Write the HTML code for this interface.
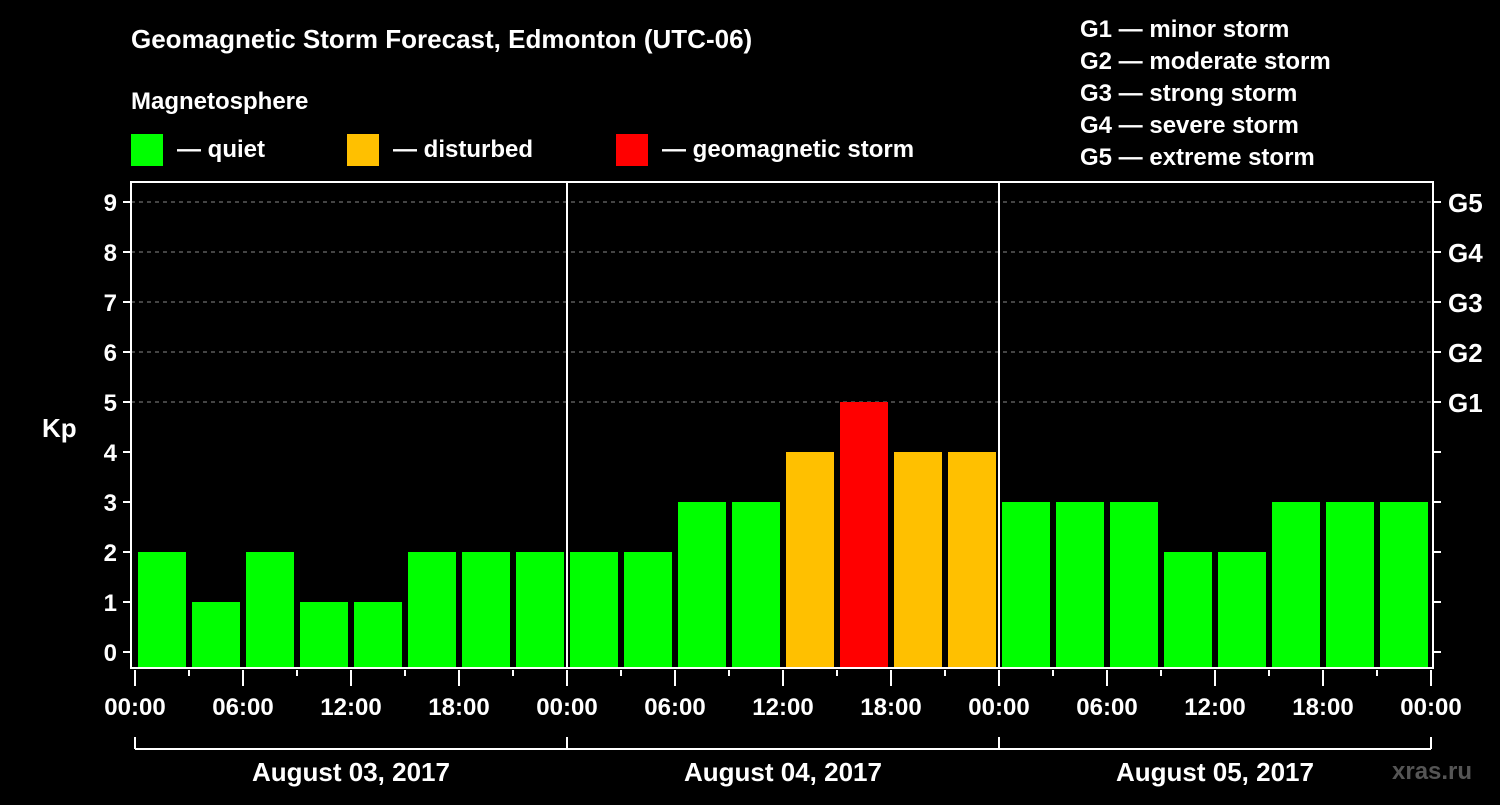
<!DOCTYPE html>
<html><head><meta charset="utf-8"><style>
body{margin:0;background:#000;width:1500px;height:800px;overflow:hidden}
svg text{font-family:"Liberation Sans",sans-serif;font-weight:bold;fill:#fff}
</style></head><body>
<svg id="c" width="1500" height="800">
<text x="131" y="48" font-size="26">Geomagnetic Storm Forecast, Edmonton (UTC-06)</text>
<text x="131" y="109" font-size="24">Magnetosphere</text>
<g><rect x="131" y="134" width="32" height="32" fill="#00ff00"/><text x="177" y="157" font-size="24">— quiet</text></g>
<g><rect x="347" y="134" width="32" height="32" fill="#ffc000"/><text x="393" y="157" font-size="24">— disturbed</text></g>
<g><rect x="616" y="134" width="32" height="32" fill="#ff0000"/><text x="662" y="157" font-size="24">— geomagnetic storm</text></g>
<g font-size="24">
<text x="1080" y="37">G1 — minor storm</text><text x="1080" y="69">G2 — moderate storm</text><text x="1080" y="101">G3 — strong storm</text><text x="1080" y="133">G4 — severe storm</text><text x="1080" y="165">G5 — extreme storm</text></g>
<text x="42" y="437" font-size="26">Kp</text>
<text x="1392" y="779" font-size="24" fill="#444" style="fill:#555">xras.ru</text>
<g id="grid"></g><g id="bars"></g><g id="axes"></g>
</svg>
<script>
const kpValues=[2,1,2,1,1,2,2,2, 2,2,3,3,4,5,4,4, 3,3,3,2,2,3,3,3];
const yTicks=[0,1,2,3,4,5,6,7,8,9];
const gLabels=["G1","G2","G3","G4","G5"];
const hourLabels=["00:00","06:00","12:00","18:00"];
const dayLabels=["August 03, 2017","August 04, 2017","August 05, 2017"];
const NS="http://www.w3.org/2000/svg";
const L=131,R=1433,T=182,B=668,x0=135,slot=54;
const y=v=>652-v*50;
const x=i=>x0+i*slot;
function mk(p,t,a){const e=document.createElementNS(NS,t);for(const k in a)e.setAttribute(k,a[k]);p.appendChild(e);return e;}
const grid=document.getElementById('grid'),bars=document.getElementById('bars'),axes=document.getElementById('axes');
for(let v=5;v<=9;v++){const l=mk(grid,'line',{x1:L,x2:R,y1:y(v),y2:y(v),stroke:'#888','stroke-dasharray':'4,4'});

}
kpValues.forEach((v,i)=>{const c=v>=5?'#ff0000':v>=4?'#ffc000':'#00ff00';
const r=mk(bars,'rect',{x:x(i)+3,y:y(v),width:48,height:B-1-y(v),fill:c});

});
const fr=mk(axes,'rect',{x:L,y:T,width:R-L,height:B-T,fill:'none',stroke:'#fff','stroke-width':2});


for(let d=1;d<3;d++){const l=mk(axes,'line',{x1:x(d*8),x2:x(d*8),y1:T,y2:B,stroke:'#fff','stroke-width':2});

}
yTicks.forEach(v=>{mk(axes,'line',{x1:L-8,x2:L,y1:y(v),y2:y(v),stroke:'#fff','stroke-width':2});
mk(axes,'line',{x1:R,x2:R+8,y1:y(v),y2:y(v),stroke:'#fff','stroke-width':2});
const t=mk(axes,'text',{x:L-14,y:y(v)+9,'font-size':24,'text-anchor':'end'});t.textContent=v;

});
gLabels.forEach((g,i)=>{const t=mk(axes,'text',{x:1448,y:y(5+i)+10,'font-size':26});t.textContent=g;

});
for(let i=0;i<=24;i++){const major=i%2==0;
mk(axes,'line',{x1:x(i),x2:x(i),y1:B+2,y2:major?B+18:B+8,stroke:'#fff','stroke-width':2});
if(major){const t=mk(axes,'text',{x:x(i),y:B+47,'font-size':24,'text-anchor':'middle'});t.textContent=hourLabels[(i/2)%4];

}}
mk(axes,'line',{x1:x(0),x2:x(24),y1:749,y2:749,stroke:'#fff','stroke-width':2});
for(let d=0;d<=3;d++)mk(axes,'line',{x1:x(d*8),x2:x(d*8),y1:737,y2:749,stroke:'#fff','stroke-width':2});
dayLabels.forEach((s,d)=>{const t=mk(axes,'text',{x:x(d*8+4),y:781,'font-size':26,'text-anchor':'middle'});t.textContent=s;

});
</script>
</body></html>
